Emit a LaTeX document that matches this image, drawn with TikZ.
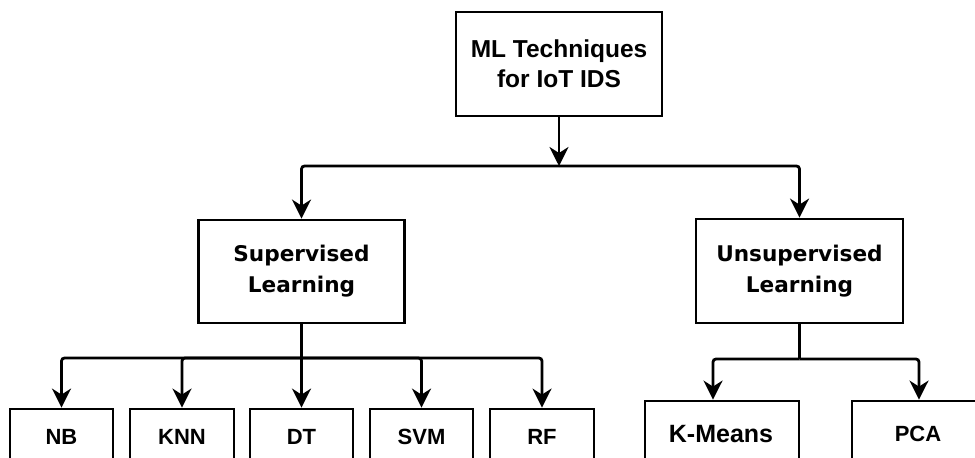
\documentclass[tikz,border=0pt]{standalone}
\usepackage{fontspec}
\setmainfont{Liberation Sans}
\newfontfamily\dejavu{DejaVu Sans}
\usetikzlibrary{arrows.meta}
\begin{document}
\begin{tikzpicture}[x=1pt,y=1pt,
  box/.style={draw=black, line width=2.8pt, fill=white, inner sep=0pt, align=center,
     font=\fontsize{24.5}{30}\selectfont\bfseries},
  dbox/.style={box, font=\fontsize{21.6}{31}\selectfont\dejavu\bfseries},
  lbl/.style={font=\fontsize{22}{26}\selectfont\bfseries},
  conn/.style={draw=black, line width=2.8pt, rounded corners=3pt},
  arr/.style={conn, -{Stealth[length=19pt, width=19pt, inset=6pt]}}]
\useasboundingbox (0,0) rectangle (975,-458);
\clip (0,0) rectangle (975,-458);
\fill[white] (0,0) rectangle (975,-458);
% top
\node[box, minimum width=206pt, minimum height=104pt] (top) at (559,-64) {ML Techniques\\for IoT IDS};
% level 2
\node[dbox, minimum width=206pt, minimum height=103pt] (sup) at (301.5,-271.5) {Supervised\\Learning};
\node[dbox, minimum width=207pt, minimum height=104pt] (uns) at (799.5,-271) {Unsupervised\\Learning};
% level 3
\node[box, minimum width=103pt, minimum height=103pt] (nb)  at (61.5,-460.5) {};
\node[box, minimum width=104pt, minimum height=103pt] (knn) at (182,-460.5) {};
\node[box, minimum width=103pt, minimum height=103pt] (dt)  at (301.5,-460.5) {};
\node[box, minimum width=103pt, minimum height=103pt] (svm) at (421.5,-460.5) {};
\node[box, minimum width=104pt, minimum height=103pt] (rf)  at (542,-460.5) {};
\node[box, minimum width=154pt, minimum height=103pt] (km)  at (722,-452.5) {};
\node[box, minimum width=134pt, minimum height=103pt] (pca) at (919,-452.5) {};
% labels of clipped boxes
\node[lbl] (tnb)  at (61.5,-437) {NB};
\node[lbl] (tknn) at (182,-437) {KNN};
\node[lbl] (tdt)  at (301.5,-437) {DT};
\node[lbl] (tsvm) at (421.5,-437) {SVM};
\node[lbl] (trf)  at (542,-437) {RF};
\node[lbl, font=\fontsize{25}{26}\selectfont\bfseries] (tkm) at (721,-434) {K-Means};
\node[lbl] (tpca) at (918,-434) {PCA};
% connectors
\coordinate (j1) at (559,-166);
\coordinate (j2) at (301.5,-358);
\coordinate (j3) at (799.5,-359);
\draw[arr] (top.south) -- (j1);
\draw[arr] (j1) -| (sup.north);
\draw[arr] (j1) -| (uns.north);
\draw[conn] (sup.south) -- (j2);
\draw[arr] (j2) -| (nb.north);
\draw[arr] (j2) -| (knn.north);
\draw[arr] (j2) -- (dt.north);
\draw[arr] (j2) -| (svm.north);
\draw[arr] (j2) -| (rf.north);
\draw[conn] (uns.south) -- (j3);
\draw[arr] (j3) -| ([xshift=-9pt]km.north);
\draw[arr] (j3) -| (pca.north);
\end{tikzpicture}
\end{document}
